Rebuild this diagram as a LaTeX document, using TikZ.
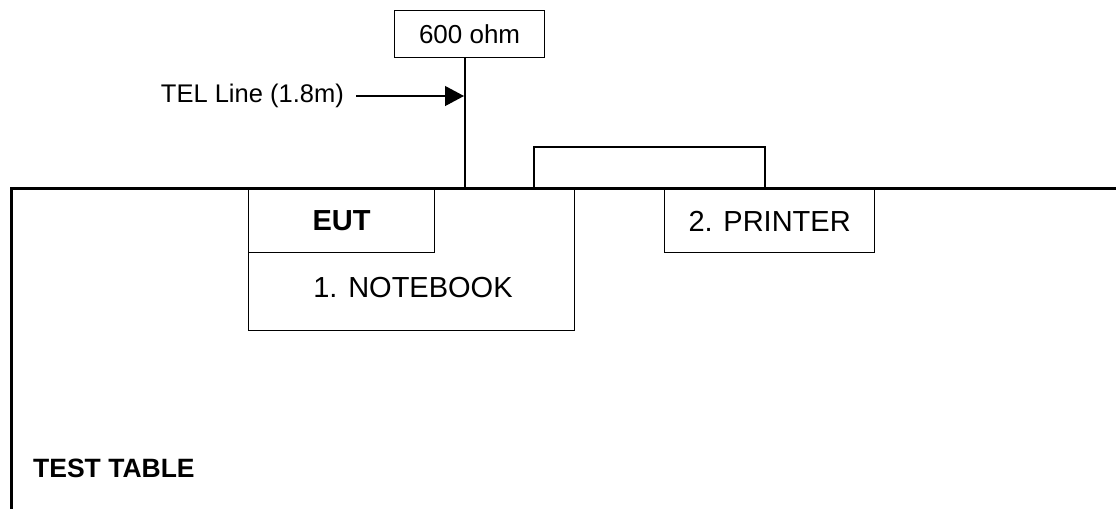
\documentclass[tikz,border=0pt]{standalone}
\usepackage{fontspec}
\setmainfont{Liberation Sans}
\usetikzlibrary{arrows.meta}
\begin{document}
\begin{tikzpicture}[x=1pt,y=-1pt,
  box/.style={draw, line width=1.2pt, inner sep=0pt, anchor=north west},
  thinline/.style={line width=1.2pt},
  tableline/.style={line width=3pt, line join=miter},
  bigtext/.style={font=\fontsize{29}{33}\selectfont},
  smalltext/.style={font=\fontsize{25.5}{29}\selectfont}]
\useasboundingbox (0,0) rectangle (1116,509);
% table
\coordinate (tabletopright) at (1116,188);
\coordinate (tablecorner) at (11,188);
\coordinate (tablebottom) at (11,509);
\draw[tableline] (tabletopright) -- (tablecorner) -- (tablebottom);
\node[font=\fontsize{26.5}{30}\selectfont\bfseries, anchor=west, inner sep=0pt] (testtable) at (33,468.5) {TEST TABLE};
% 600 ohm
\node[box, minimum width=150, minimum height=47, font=\fontsize{26}{30}\selectfont] (ohm) at (394,10) {600 ohm};
\coordinate (tap) at (465,188);
\coordinate (arrowpt) at (464,96);
\draw[thinline] (ohm.south -| tap) -- (tap);
% TEL line label
\node[smalltext, anchor=east, inner sep=0pt] (tel) at (344,96) {TEL Line (1.8m)};
\draw[thinline, -{Triangle[length=19,width=20]}] ([xshift=12pt]tel.east) -- (arrowpt);
% notebook
\node[box, minimum width=326, minimum height=141] (notebook) at (248,189) {};
\node[bigtext, inner sep=0pt] (nbtext) at (413,288) {1. NOTEBOOK};
\node[box, minimum width=186, minimum height=63, font=\fontsize{29}{33}\selectfont\bfseries] (eut) at (248,189) {EUT};
% printer
\node[box, minimum width=210, minimum height=63, bigtext] (printer) at (664,189) {2. PRINTER};
% printer cable
\coordinate (cableleft) at (534,188);
\coordinate (cabletop) at (765,147);
\coordinate (cableright) at (765,188);
\draw[thinline] (cableleft) |- (cabletop) -- (cableright);
\end{tikzpicture}
\end{document}
